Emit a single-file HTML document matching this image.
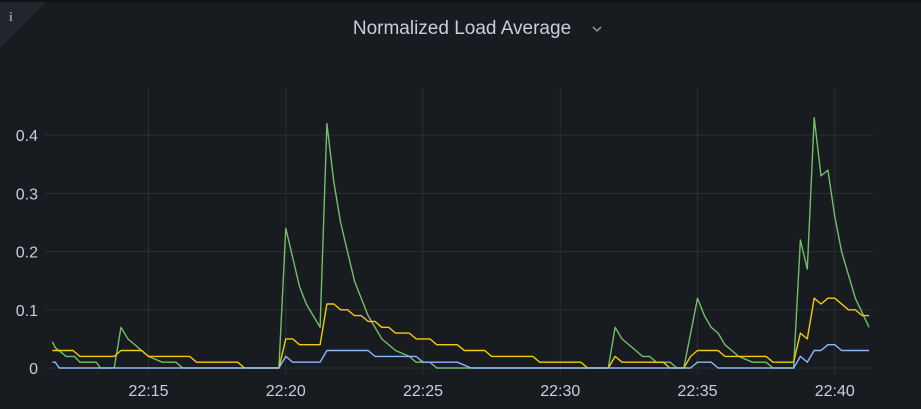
<!DOCTYPE html>
<html><head><meta charset="utf-8"><style>
html,body{margin:0;padding:0;background:#181b1f;width:921px;height:409px;overflow:hidden;font-family:"Liberation Sans",sans-serif;}
</style></head><body>
<div style="position:relative;width:921px;height:409px;background:#181b1f;">
<svg id="chart" width="921" height="409" style="position:absolute;left:0;top:0">
  <rect x="0" y="0" width="921" height="2" fill="#111217"/>
  <polygon points="0,2 46,2 0,48" fill="#22252b"/>
  <text x="9" y="21" fill="#8e9099" font-size="13" font-family="Liberation Serif, serif" font-weight="bold">i</text>
  <text x="462" y="34" text-anchor="middle" fill="#ccccdc" font-size="19">Normalized Load Average</text>
  <path d="M593,27 l4,4 l4,-4" stroke="#9fa1a8" stroke-width="1.3" fill="none"/>
  <g id="grid"></g><g id="series"></g>
</svg>
</div>
<script>
const yTicks=[0,0.1,0.2,0.3,0.4];
const yTickLabels=["0","0.1","0.2","0.3","0.4"];
const xTicks=[15,20,25,30,35,40];
const xTickLabels=["22:15","22:20","22:25","22:30","22:35","22:40"];
// minutes past 22:00
const greenT=[11.5,11.6,12,12.3,12.5,13.1,13.25,13.75,14,14.25,14.75,15,15.5,16,16.25,19.75,20,20.5,20.75,21.25,21.5,21.75,22,22.25,22.5,22.75,23,23.25,23.5,24,24.5,24.75,25.25,25.5,31.75,32,32.25,32.75,33,33.25,33.5,34,34.25,34.5,35,35.25,35.5,35.75,36,36.5,37,37.5,37.75,38.5,38.75,39,39.25,39.5,39.75,40,40.25,40.75,41.25];
const greenV=[0.045,0.035,0.02,0.02,0.01,0.01,0,0,0.07,0.05,0.03,0.02,0.01,0.01,0,0,0.24,0.14,0.11,0.07,0.42,0.32,0.25,0.2,0.15,0.12,0.09,0.07,0.05,0.03,0.02,0.01,0.01,0,0,0.07,0.05,0.03,0.02,0.02,0.01,0.01,0,0,0.12,0.09,0.07,0.06,0.04,0.02,0.01,0.01,0,0,0.22,0.17,0.43,0.33,0.34,0.26,0.2,0.12,0.07];
const yellowT=[11.5,12.25,12.5,13.75,14,14.75,15,16.5,16.75,18.25,18.5,19.75,20,20.25,20.5,21.25,21.5,21.75,22,22.25,22.5,22.75,23,23.25,23.5,23.75,24,24.5,24.75,25.25,25.5,26.25,26.5,27.25,27.5,29,29.25,30.75,31,31.75,32,32.25,33.75,34,34.5,34.75,35,35.75,36,37.5,37.75,38.5,38.75,39,39.25,39.5,39.75,40,40.5,40.75,41,41.25];
const yellowV=[0.03,0.03,0.02,0.02,0.03,0.03,0.02,0.02,0.01,0.01,0,0,0.05,0.05,0.04,0.04,0.11,0.11,0.1,0.1,0.09,0.09,0.08,0.08,0.07,0.07,0.06,0.06,0.05,0.05,0.04,0.04,0.03,0.03,0.02,0.02,0.01,0.01,0,0,0.02,0.01,0.01,0,0,0.02,0.03,0.03,0.02,0.02,0.01,0.01,0.06,0.05,0.12,0.11,0.12,0.12,0.1,0.1,0.09,0.09];
const blueT=[11.5,11.6,11.75,19.75,20,20.25,21.25,21.5,23,23.25,24.75,25,26.25,26.75,34.75,35,35.5,35.75,38.5,38.75,39,39.25,39.5,39.75,40,40.25,41.25];
const blueV=[0.01,0.01,0,0,0.02,0.01,0.01,0.03,0.03,0.02,0.02,0.01,0.01,0,0,0.01,0.01,0,0,0.02,0.01,0.03,0.03,0.04,0.04,0.03,0.03];

const NS="http://www.w3.org/2000/svg";
function xs(m){return 148.5+(m-15)*27.45;}
function ys(v){return 368-v*582;}
const grid=document.getElementById('grid');
yTicks.forEach((t,i)=>{
  const l=document.createElementNS(NS,'line');
  
  
  l.setAttribute('x1',45);l.setAttribute('x2',873);l.setAttribute('y1',ys(t));l.setAttribute('y2',ys(t));
  l.setAttribute('stroke','#2b2e33');l.setAttribute('stroke-width','1');
  grid.appendChild(l);
  const tx=document.createElementNS(NS,'text');
  
  
  tx.setAttribute('x',38);tx.setAttribute('y',ys(t)+6);tx.setAttribute('text-anchor','end');
  tx.setAttribute('fill','#ccccdc');tx.setAttribute('font-size','16');
  tx.textContent=yTickLabels[i];
  grid.appendChild(tx);
});
xTicks.forEach((t,i)=>{
  const l=document.createElementNS(NS,'line');
  
  
  l.setAttribute('x1',xs(t));l.setAttribute('x2',xs(t));l.setAttribute('y1',88);l.setAttribute('y2',374);
  l.setAttribute('stroke','#2b2e33');l.setAttribute('stroke-width','1');
  grid.appendChild(l);
  const tx=document.createElementNS(NS,'text');
  
  
  tx.setAttribute('x',xs(t));tx.setAttribute('y',396);tx.setAttribute('text-anchor','middle');
  tx.setAttribute('fill','#ccccdc');tx.setAttribute('font-size','16');
  tx.textContent=xTickLabels[i];
  grid.appendChild(tx);
});
const ser=document.getElementById('series');
function draw(T,V,color,name){
  const p=document.createElementNS(NS,'polyline');
  
  
  p.setAttribute('points',T.map((t,i)=>xs(t).toFixed(1)+','+ys(V[i]).toFixed(1)).join(' '));
  p.setAttribute('fill','none');p.setAttribute('stroke',color);p.setAttribute('stroke-width','1.4');
  p.setAttribute('stroke-linejoin','round');
  ser.appendChild(p);
}
draw(greenT,greenV,'#73bf69','load-1m-line');
draw(yellowT,yellowV,'#f2cc0c','load-15m-line');
draw(blueT,blueV,'#8ab8ff','load-5m-line');
</script>
</body></html>
